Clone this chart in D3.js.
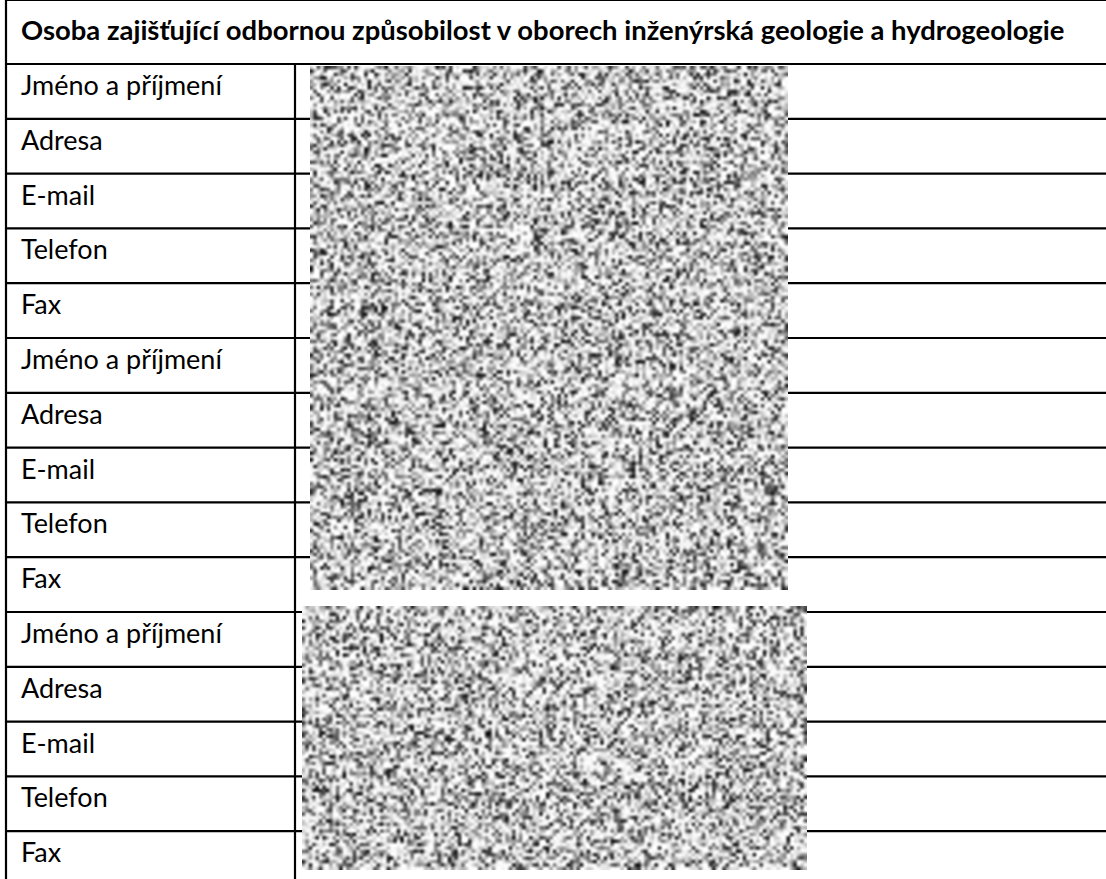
<!DOCTYPE html>
<html>
<head>
<meta charset="utf-8">
<script src="https://cdn.jsdelivr.net/npm/d3@7"></script>
<style>
  body { margin: 0; background: #fff; }
  svg { display: block; }
</style>
</head>
<body>
<svg width="1106" height="879"></svg>
<script>
// table content
const title = "Osoba zajišťující odbornou způsobilost v oborech inženýrská geologie a hydrogeologie";
const fieldNames = ["Jméno a příjmení", "Adresa", "E-mail", "Telefon", "Fax"];
const personCount = 3;

var rows = d3.range(personCount).flatMap(() => fieldNames);

var svg = d3.select("svg"),
  left = 6, top = 11, headerBottom = 64, divider = 295, right = 1110,
  rowH = 54.8;

var y = d3.scaleLinear().domain([0, rows.length]).range([headerBottom, headerBottom + rowH * rows.length]);

var g = svg.append("g");

// horizontal row lines
g.selectAll(".rowline")
  .data(d3.range(rows.length + 1))
  .enter()
  .append("line")
  .attr("class", "rowline")
  .attr("x1", left)
  .attr("x2", right)
  .attr("y1", d => y(d))
  .attr("y2", d => y(d))
  .attr("stroke", "#000")
  .attr("stroke-width", 2.2);

// top border
g.append("line").attr("x1", left).attr("x2", right).attr("y1", top).attr("y2", top)
  .attr("stroke", "#000").attr("stroke-width", 2.2);
// left border
g.append("line").attr("x1", left).attr("x2", left).attr("y1", top - 1.1).attr("y2", 900)
  .attr("stroke", "#000").attr("stroke-width", 2.2);
// column divider
g.append("line").attr("x1", divider).attr("x2", divider).attr("y1", headerBottom).attr("y2", 900)
  .attr("stroke", "#000").attr("stroke-width", 2.2);

// header
var head = g.append("text")
  .attr("x", 21)
  .attr("y", 40)
  .attr("font-family", "Lato, 'Open Sans', sans-serif")
  .attr("font-weight", "bold")
  .attr("font-size", 22)
  .attr("fill", "#000")
  .text(title);
var hw = head.node().getComputedTextLength();
head.attr("font-size", 22 * 1044 / hw);

// labels
var labels = g.selectAll(".label")
  .data(rows)
  .enter()
  .append("text")
  .attr("class", "label")
  .attr("x", 21)
  .attr("y", (d, i) => y(i) + 31)
  .attr("font-family", "Lato, 'Open Sans', sans-serif")
  .attr("font-size", 22)
  .attr("fill", "#000")
  .text(d => d);
var lw = labels.node().getComputedTextLength();
labels.attr("font-size", 22 * 201 / lw);

// redacted pictures: grey noise texture, seeded so it stays the same
function noiseImage(w, h, seed) {
  var cell = 3.4;
  var cw = Math.ceil(w / cell), ch = Math.ceil(h / cell);
  var c = document.createElement("canvas");
  c.width = cw; c.height = ch;
  var ctx = c.getContext("2d");
  var img = ctx.createImageData(cw, ch);
  var rnd = d3.randomLcg(seed);
  for (var i = 0; i < cw * ch; i++) {
    var v = Math.round(252 - Math.pow(rnd(), 2.4) * 235);
    img.data[i * 4] = v; img.data[i * 4 + 1] = v; img.data[i * 4 + 2] = v; img.data[i * 4 + 3] = 255;
  }
  ctx.putImageData(img, 0, 0);
  var big = document.createElement("canvas");
  big.width = w; big.height = h;
  var bctx = big.getContext("2d");
  bctx.imageSmoothingEnabled = true;
  bctx.imageSmoothingQuality = "high";
  bctx.drawImage(c, 0, 0, w, h);
  return big.toDataURL();
}

var blocks = [
  { x0: 310, x1: 788, y0: 66, y1: 590, seed: 0.17 },
  { x0: 302, x1: 807, y0: 606, y1: 870, seed: 0.48 }
];
blocks.forEach(b => {
  g.append("image")
    .attr("x", b.x0)
    .attr("y", b.y0)
    .attr("width", b.x1 - b.x0)
    .attr("height", b.y1 - b.y0)
    .attr("preserveAspectRatio", "none")
    .attr("href", noiseImage(b.x1 - b.x0, b.y1 - b.y0, b.seed));
});
</script>
</body>
</html>
